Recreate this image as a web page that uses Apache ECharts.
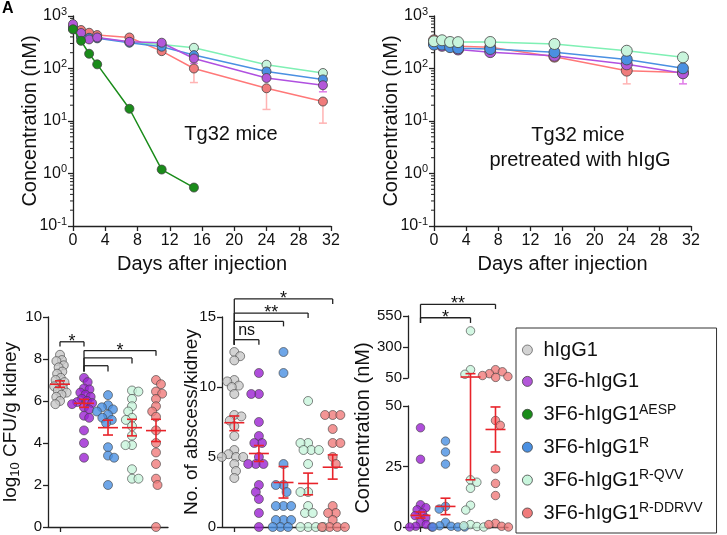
<!DOCTYPE html>
<html><head><meta charset="utf-8">
<script src="https://cdn.jsdelivr.net/npm/echarts@6/dist/echarts.min.js"></script>
<style>html,body{margin:0;padding:0;background:#fff}#c{width:727px;height:535px}</style>
</head><body><div id="c"></div><script>
const FONT = 'Liberation Sans, Arial, Helvetica, sans-serif';

// ---------- groups / legend ----------
const groupBase = ['hIgG1','3F6-hIgG1','3F6-hIgG1','3F6-hIgG1','3F6-hIgG1','3F6-hIgG1'];
const groupSup  = ['','','AESP','R','R-QVV','R-DDRVV'];
const groupNames = groupBase.map((b,i)=> groupSup[i] ? b+' '+groupSup[i] : b);
const dotColors    = ['#c8c8c8','#9b22d2','#1a8c1a','#4a90e2','#c8f5dc','#f07b7b'];
const legendColors = ['#c8c8c8','#b357d9','#1a8c1a','#4a90e2','#c8f5dc','#f07b7b'];
const lineColors   = ['#c8c8c8','#b050e0','#1a8c1a','#4a90e2','#7ff0b4','#ff7878'];

// ---------- Panel A (Tg32 mice) ----------
const daysA = [0,1,2,3,7,11,15,24,31];
const daysAGreen = [0,1,2,3,7,11,15];
const A_purple     = [700,475,358,390,323,310,155,66,48];
const A_green      = [560,337,191,120,17.1,1.19,0.54];
const A_blue       = [600,403,385,375,310,260,180,88,62];
const A_lightgreen = [556,395,375,385,315,287,248,118,82];
const A_red        = [620,541,480,433,390,214,100,42,23.5];
const A_redErr     = [[15,100,54],[24,42,16.6],[31,23.5,9.1]];
const A_purpleErr  = [[15,155,125],[31,48,36]];

// ---------- Panel B (pretreated with hIgG) ----------
const daysB = [0,1,2,3,7,15,24,31];
const B_purple     = [300,270,265,230,205,175,120,81];
const B_blue       = [285,285,255,242,235,204,149,101];
const B_lightgreen = [330,345,320,318,320,293,218,163];
const B_red        = [345,310,280,265,255,168,91,84];
const B_redErr     = [[15,168,140],[24,91,51]];
const B_purpleErr  = [[31,81,51]];

// ---------- Panel C (log10 CFU/g kidney) ----------
const catsC = ['hIgG1','3F6-hIgG1','3F6-hIgG1 R','3F6-hIgG1 R-QVV','3F6-hIgG1 R-DDRVV'];
const C_grey   = [8.2,7.95,7.9,7.7,7.6,7.4,7.3,7.1,7.0,6.9,6.8,6.7,6.6,6.5,6.4,6.3,6.2,6.0,5.85];
const C_purple = [7.1,6.9,6.6,6.55,6.4,6.3,6.2,6.1,6.0,5.95,5.9,5.85,5.7,5.6,5.3,5.2,4.6,4.0,3.3];
const C_blue   = [6.28,5.8,5.7,5.6,5.5,5.35,5.2,5.1,4.95,3.8,3.4,3.3,2.0];
const C_lgreen = [6.5,6.45,6.1,5.75,5.5,5.2,5.1,4.8,4.35,3.9,3.9,2.75,2.3,2.3];
const C_red    = [7.0,6.8,6.45,6.35,6.1,5.75,5.5,5.25,4.6,4.0,3.55,3.0,2.3,2.0,0];
const C_mean = [6.8,5.89,4.73,4.73,4.59];
const C_lo   = [6.65,5.7,4.38,4.34,4.07];
const C_hi   = [6.96,6.08,5.09,5.13,5.13];

// ---------- Panel D (No. of abscess/kidney) ----------
const D_grey   = [12.5,12.2,11.9,10.5,10.4,10.1,10,9.5,8,7.9,7.6,7.2,6.5,5.5,5.2,5.0,5.0,5.0,4.5,4.0,3.5];
const D_purple = [11,9.5,9.5,7.5,6.5,6,6,5,4.5,4.5,4.5,3,2.5,2,1,0];
const D_blue   = [12.5,11,4.5,3,3,2.5,1.5,1.5,1.5,0.5,0.5,0.5,0,0,0];
const D_lgreen = [9,6,6,5.5,5.5,5.5,4.5,2.5,2.5,1.5,1,1,0,0,0,0];
const D_red    = [8,8,8,7,6,6,5,4.5,1.5,1,1,0.5,0,0,0,0];
const D_mean = [7.45,5.25,3.18,3.11,4.27];
const D_lo   = [6.88,4.68,2.07,2.3,3.42];
const D_hi   = [7.93,5.82,4.32,3.85,5.15];

// ---------- Panel E (Concentration, broken axis) ----------
const catsE = ['3F6-hIgG1','3F6-hIgG1 R','3F6-hIgG1 R-QVV','3F6-hIgG1 R-DDRVV'];
const E_purple = [41,28,9.2,8,7.1,5.8,4.7,3.7,1.9,1.0,0.3,0,0];
const E_blue   = [35.5,31,26,8.5,7.4,1.9,0.5,0.3,0,0,0];
const E_lgreen = [430,117,80,19.5,18.5,16,9,7,1,0.5,0.2,0];
const E_red    = [117,100,85,70,62,55,44,42,24,18,13,1.5,1,0.3,0];
const E_mean = [4.8,8.5,58,40.3];
const E_lo   = [3.7,5.1,19.5,31];
const E_hi   = [6.2,11.9,85,49.6];
const E_break = 50;

// ---------- significance brackets ----------
const sigC = [
  {a:0,b:1,y:8.82,dl:8.59,dr:8.59,t:'*'},
  {a:1,b:4,y:8.40,dl:7.40,dr:8.16,t:'*'},
  {a:1,b:3,y:8.05,dl:7.40,dr:7.78,t:''},
  {a:1,b:2,y:7.68,dl:7.40,dr:7.40,t:''}
];
const sigD = [
  {a:0,b:1,y:13.38,dl:13.02,dr:13.02,t:'ns'},
  {a:0,b:2,y:14.69,dl:13.02,dr:14.33,t:''},
  {a:0,b:3,y:15.28,dl:13.02,dr:14.93,t:'**'},
  {a:0,b:4,y:16.29,dl:13.02,dr:15.93,t:'*'}
];
const sigE = [
  {a:0,b:2,y:536,dl:494,dr:494,t:'*'},
  {a:0,b:3,y:644,dl:494,dr:606,t:'**'}
];

// ---------- layout ----------
const G = {
  A:{left:73, top:16, width:258, height:210},
  B:{left:434, top:16, width:257, height:210},
  C:{left:48, top:317, width:120, height:210},
  D:{left:222, top:317, width:123, height:210},
  EU:{left:408, top:316, width:100, height:62},
  EL:{left:408, top:406, width:100, height:121}
};
const AX = {show:true, onZero:false, lineStyle:{color:'#222', width:1.3}};
const TICK = {show:true, lineStyle:{color:'#222', width:1.3}, length:5};

function swarm(vals, ppu, d){
  const idx = vals.map((v,i)=>i).sort((a,b)=>vals[b]-vals[a]);
  const placed = []; const out = new Array(vals.length).fill(0);
  let flip = 1;
  for (const i of idx){
    const y = vals[i]*ppu;
    const ivs = [];
    for (const p of placed){ const dy=Math.abs(p.y-y); if (dy<d){ const h=Math.sqrt(d*d-dy*dy); ivs.push([p.x-h,p.x+h]); } }
    const cands=[0]; ivs.forEach(iv=>cands.push(iv[0],iv[1]));
    cands.sort((a,b)=>(Math.abs(a)-Math.abs(b)) || (flip*(a-b)));
    let x=0;
    for (const c of cands){ if (ivs.every(iv=> c<=iv[0]+1e-6 || c>=iv[1]-1e-6)){ x=c; break; } }
    flip = -flip;
    placed.push({x,y}); out[i]=x;
  }
  return out;
}

function dotSeries(gi, cat, vals, xi, yi, ppu, size, overlap){
  const offs = swarm(vals, ppu, size*(overlap||0.72));
  return {type:'scatter', name:groupNames[gi], xAxisIndex:xi, yAxisIndex:yi, symbolSize:size, clip:false, z:3,
    itemStyle:{color:dotColors[gi], borderColor:'#444', borderWidth:0.8},
    data: vals.map((v,k)=>({value:[cat,v], symbolOffset:[offs[k],0]}))};
}

function lineSeries(gi, days, vals, xi, yi, size, z){
  return {type:'line', name:groupNames[gi], xAxisIndex:xi, yAxisIndex:yi, symbol:'circle', symbolSize:size, z:z||2,
    itemStyle:{color:legendColors[gi], borderColor:'#444', borderWidth:0.8},
    lineStyle:{color:lineColors[gi], width:1.5},
    data: days.map((d,k)=>[d, vals[k]])};
}

function errSeries(data, color, xi, yi){
  return {type:'custom', xAxisIndex:xi, yAxisIndex:yi, z:1, silent:true, data:data,
    renderItem:(p,api)=>{
      const a=api.coord([api.value(0),api.value(1)]), b=api.coord([api.value(0),api.value(2)]);
      const st={stroke:color, lineWidth:1.5};
      return {type:'group', children:[
        {type:'line', shape:{x1:a[0],y1:a[1],x2:b[0],y2:b[1]}, style:st},
        {type:'line', shape:{x1:b[0]-4,y1:b[1],x2:b[0]+4,y2:b[1]}, style:st}]};
    }};
}

function minorTickSeries(xi, yi){
  const mv=[]; for (let e=-1;e<=2;e++) for (let k=2;k<=9;k++) mv.push([0, k*Math.pow(10,e)]);
  return {type:'custom', xAxisIndex:xi, yAxisIndex:yi, silent:true, data:mv, z:1,
    renderItem:(p,api)=>{ const c=api.coord([api.value(0),api.value(1)]);
      return {type:'line', shape:{x1:c[0]-3,y1:c[1],x2:c[0],y2:c[1]}, style:{stroke:'#222', lineWidth:1}}; }};
}

const RED='#e8232a';
function meanSemSeries(mean, lo, hi, xi, yi){
  return {type:'custom', xAxisIndex:xi, yAxisIndex:yi, z:4, silent:true,
    data: mean.map((m,i)=>[i,m,lo[i],hi[i]]),
    renderItem:(p,api)=>{
      const c=api.value(0);
      const pm=api.coord([c,api.value(1)]), pl=api.coord([c,api.value(2)]), ph=api.coord([c,api.value(3)]);
      const st={stroke:RED, lineWidth:1.6};
      return {type:'group', children:[
        {type:'line', shape:{x1:pm[0]-10,y1:pm[1],x2:pm[0]+10,y2:pm[1]}, style:st},
        {type:'line', shape:{x1:pl[0],y1:pl[1],x2:ph[0],y2:ph[1]}, style:st},
        {type:'line', shape:{x1:pl[0]-5,y1:pl[1],x2:pl[0]+5,y2:pl[1]}, style:st},
        {type:'line', shape:{x1:ph[0]-5,y1:ph[1],x2:ph[0]+5,y2:ph[1]}, style:st}]};
    }};
}

// broken-axis mean/SEM for panel E
const gapE = G.EL.top - (G.EU.top + G.EU.height);
function meanSemLowerE(){
  return {type:'custom', xAxisIndex:5, yAxisIndex:5, z:4, silent:true,
    data: E_mean.map((m,i)=>[i,m,E_lo[i],E_hi[i]]),
    renderItem:(p,api)=>{
      const c=api.value(0), m=api.value(1), lo=api.value(2), hi=api.value(3);
      const st={stroke:RED, lineWidth:1.6};
      const pl=api.coord([c,lo]);
      if (m<=E_break){
        const pm=api.coord([c,m]), ph=api.coord([c,hi]);
        return {type:'group', children:[
          {type:'line', shape:{x1:pm[0]-10,y1:pm[1],x2:pm[0]+10,y2:pm[1]}, style:st},
          {type:'line', shape:{x1:pl[0],y1:pl[1],x2:ph[0],y2:ph[1]}, style:st},
          {type:'line', shape:{x1:pl[0]-5,y1:pl[1],x2:pl[0]+5,y2:pl[1]}, style:st},
          {type:'line', shape:{x1:ph[0]-5,y1:ph[1],x2:ph[0]+5,y2:ph[1]}, style:st}]};
      }
      const pt=api.coord([c,E_break]);
      return {type:'group', children:[
        {type:'line', shape:{x1:pl[0],y1:pl[1],x2:pt[0],y2:pt[1]-gapE}, style:st},
        {type:'line', shape:{x1:pl[0]-5,y1:pl[1],x2:pl[0]+5,y2:pl[1]}, style:st}]};
    }};
}
function meanSemUpperE(){
  return {type:'custom', xAxisIndex:4, yAxisIndex:4, z:4, silent:true,
    data: E_mean.map((m,i)=>[i,m,E_lo[i],E_hi[i]]),
    renderItem:(p,api)=>{
      const c=api.value(0), m=api.value(1), hi=api.value(3);
      if (m<=E_break) return null;
      const st={stroke:RED, lineWidth:1.6};
      const pm=api.coord([c,m]), ph=api.coord([c,hi]), pb=api.coord([c,E_break]);
      return {type:'group', children:[
        {type:'line', shape:{x1:pm[0]-10,y1:pm[1],x2:pm[0]+10,y2:pm[1]}, style:st},
        {type:'line', shape:{x1:ph[0],y1:ph[1],x2:pb[0],y2:pb[1]}, style:st},
        {type:'line', shape:{x1:ph[0]-5,y1:ph[1],x2:ph[0]+5,y2:ph[1]}, style:st}]};
    }};
}

function sigSeries(sig, xi, yi){
  return {type:'custom', xAxisIndex:xi, yAxisIndex:yi, z:5, silent:true,
    data: sig.map(s=>[s.a,s.b,s.y,s.dl,s.dr]),
    renderItem:(p,api)=>{
      const s=sig[p.dataIndex];
      const L=api.coord([s.a,s.y]), R=api.coord([s.b,s.y]);
      const Ld=api.coord([s.a,s.dl]), Rd=api.coord([s.b,s.dr]);
      const st={stroke:'#222', lineWidth:1.3};
      const ch=[
        {type:'line', shape:{x1:L[0],y1:L[1],x2:R[0],y2:R[1]}, style:st},
        {type:'line', shape:{x1:L[0],y1:L[1],x2:Ld[0],y2:Ld[1]}, style:st},
        {type:'line', shape:{x1:R[0],y1:R[1],x2:Rd[0],y2:Rd[1]}, style:st}];
      if (s.t){
        const isStar = s.t.indexOf('*')>=0;
        ch.push({type:'text', x:(L[0]+R[0])/2, y: isStar ? L[1] : L[1]-1,
          style:{text:s.t, fill:'#111', font: (isStar?'18px ':'16px ')+FONT, textAlign:'center', textVerticalAlign: isStar?'middle':'bottom'}});
      }
      return {type:'group', children:ch};
    }};
}

const logFmt = v => '{b|10}{s|' + Math.round(Math.log10(v)) + '}';
const logRich = {b:{fontSize:16, fontFamily:FONT, color:'#111'}, s:{fontSize:11, fontFamily:FONT, color:'#111', padding:[0,0,9,0]}};

function daysAxis(gi){
  return {type:'value', gridIndex:gi, min:0, max:32, interval:4, axisLine:AX, axisTick:TICK, splitLine:{show:false},
    axisLabel:{fontSize:16, fontFamily:FONT, color:'#111', margin:7},
    name:'Days after injection', nameLocation:'middle', nameGap:28, nameTextStyle:{fontSize:20, fontFamily:FONT, color:'#111'}};
}
function logAxis(gi){
  return {type:'log', logBase:10, gridIndex:gi, min:0.1, max:1000, axisLine:AX, axisTick:TICK, splitLine:{show:false}, minorTick:{show:false},
    axisLabel:{formatter:logFmt, rich:logRich, margin:6},
    name:'Concentration (nM)', nameLocation:'middle', nameGap:33, nameMoveOverlap:false,
    nameTextStyle:{fontSize:20, fontFamily:FONT, color:'#111'}};
}
function catAxis(gi, cats, show){
  return {type:'category', gridIndex:gi, data:cats, show:show!==false, axisLine:AX,
    axisTick:{show:true, alignWithLabel:true, length:5, lineStyle:{color:'#222', width:1.3}}, axisLabel:{show:false}, splitLine:{show:false}};
}
const lblStyle = {fontSize:15, fontFamily:FONT, color:'#111', margin:6, showMinLabel:true, showMaxLabel:true, hideOverlap:false};

const option = {
  animation:false,
  backgroundColor:'#fff',
  textStyle:{fontFamily:FONT},
  grid:[G.A,G.B,G.C,G.D,G.EU,G.EL].map(g=>Object.assign({containLabel:false}, g)),
  xAxis:[daysAxis(0), daysAxis(1), catAxis(2,catsC), catAxis(3,catsC), catAxis(4,catsE,false), catAxis(5,catsE)],
  yAxis:[logAxis(0), logAxis(1),
    {type:'value', gridIndex:2, min:0, max:10, interval:2, axisLine:AX, axisTick:TICK, splitLine:{show:false}, axisLabel:lblStyle,
      name:'{a|log}{u|10}{a| CFU/g kidney}', nameLocation:'middle', nameGap:26, nameMoveOverlap:false,
      nameTextStyle:{fontSize:19, color:'#111', rich:{a:{fontSize:19, fontFamily:FONT, color:'#111'}, u:{fontSize:13, fontFamily:FONT, color:'#111', padding:[9,0,0,0]}}}},
    {type:'value', gridIndex:3, min:0, max:15, interval:5, axisLine:AX, axisTick:TICK, splitLine:{show:false}, axisLabel:lblStyle,
      name:'No. of abscess/kidney', nameLocation:'middle', nameGap:21, nameMoveOverlap:false,
      nameTextStyle:{fontSize:19, fontFamily:FONT, color:'#111'}},
    {type:'value', gridIndex:4, min:50, max:550, interval:250, axisLine:AX, axisTick:TICK, splitLine:{show:false}, axisLabel:lblStyle},
    {type:'value', gridIndex:5, min:0, max:50, interval:25, axisLine:AX, axisTick:TICK, splitLine:{show:false}, axisLabel:lblStyle}
  ],
  legend:{
    orient:'vertical', left:516, top:328, icon:'circle', itemWidth:10, itemHeight:10, itemGap:11.4,
    padding:[12,14,10,6], borderColor:'#333', borderWidth:1, selectedMode:false,
    data: groupNames.map((n,i)=>({name:n, icon:'circle', itemStyle:{color:legendColors[i], borderColor:'#444', borderWidth:0.8}})),
    formatter: n => { const i=groupNames.indexOf(n); return '{b|'+groupBase[i]+'}' + (groupSup[i] ? '{s|'+groupSup[i]+'}' : ''); },
    textStyle:{fontFamily:FONT, color:'#111', padding:[0,0,0,6],
      rich:{b:{fontSize:20, fontFamily:FONT, color:'#111', lineHeight:22}, s:{fontSize:14, fontFamily:FONT, color:'#111', padding:[0,0,9,0]}}}
  },
  graphic:[
    {type:'text', left:2, top:1, style:{text:'A', font:'bold 16px '+FONT, fill:'#000'}},
    {type:'text', x:231, y:134, style:{text:'Tg32 mice', font:'20px '+FONT, fill:'#111', textAlign:'center', textVerticalAlign:'middle'}},
    {type:'text', x:578, y:135, style:{text:'Tg32 mice', font:'20px '+FONT, fill:'#111', textAlign:'center', textVerticalAlign:'middle'}},
    {type:'text', x:580, y:160, style:{text:'pretreated with hIgG', font:'20px '+FONT, fill:'#111', textAlign:'center', textVerticalAlign:'middle'}},
    {type:'text', x:363, y:428, rotation:Math.PI/2, style:{text:'Concentration (nM)', font:'20px '+FONT, fill:'#111', textAlign:'center', textVerticalAlign:'middle'}}
  ],
  series:[
    minorTickSeries(0,0), minorTickSeries(1,1),
    errSeries(A_redErr, '#ffb3b3', 0, 0), errSeries(A_purpleErr, '#e07ce8', 0, 0),
    lineSeries(5, daysA, A_red, 0, 0, 9),
    lineSeries(4, daysA, A_lightgreen, 0, 0, 9),
    lineSeries(3, daysA, A_blue, 0, 0, 9),
    lineSeries(1, daysA, A_purple, 0, 0, 9),
    lineSeries(2, daysAGreen, A_green, 0, 0, 9, 3),
    errSeries(B_redErr, '#ffb3b3', 1, 1), errSeries(B_purpleErr, '#e07ce8', 1, 1),
    lineSeries(5, daysB, B_red, 1, 1, 11),
    lineSeries(1, daysB, B_purple, 1, 1, 11),
    lineSeries(3, daysB, B_blue, 1, 1, 11),
    lineSeries(4, daysB, B_lightgreen, 1, 1, 11),
    // panel C
    dotSeries(0, 0, C_grey, 2, 2, G.C.height/10, 9, 0.62),
    dotSeries(1, 1, C_purple, 2, 2, G.C.height/10, 9, 0.62),
    dotSeries(3, 2, C_blue, 2, 2, G.C.height/10, 9, 0.72),
    dotSeries(4, 3, C_lgreen, 2, 2, G.C.height/10, 9, 0.72),
    dotSeries(5, 4, C_red, 2, 2, G.C.height/10, 9, 0.72),
    meanSemSeries(C_mean, C_lo, C_hi, 2, 2),
    sigSeries(sigC, 2, 2),
    // panel D
    dotSeries(0, 0, D_grey, 3, 3, G.D.height/15, 9, 0.8),
    dotSeries(1, 1, D_purple, 3, 3, G.D.height/15, 9, 0.85),
    dotSeries(3, 2, D_blue, 3, 3, G.D.height/15, 9, 0.85),
    dotSeries(4, 3, D_lgreen, 3, 3, G.D.height/15, 9, 0.85),
    dotSeries(5, 4, D_red, 3, 3, G.D.height/15, 9, 0.85),
    meanSemSeries(D_mean, D_lo, D_hi, 3, 3),
    sigSeries(sigD, 3, 3),
    // panel E lower
    dotSeries(1, 0, E_purple.filter(v=>v<=E_break), 5, 5, G.EL.height/50, 8.5, 0.72),
    dotSeries(3, 1, E_blue.filter(v=>v<=E_break), 5, 5, G.EL.height/50, 8.5, 0.8),
    dotSeries(4, 2, E_lgreen.filter(v=>v<=E_break), 5, 5, G.EL.height/50, 8.5, 0.8),
    dotSeries(5, 3, E_red.filter(v=>v<=E_break), 5, 5, G.EL.height/50, 8.5, 0.8),
    // panel E upper
    dotSeries(4, 2, E_lgreen.filter(v=>v>E_break), 4, 4, G.EU.height/500, 8.5, 0.85),
    dotSeries(5, 3, E_red.filter(v=>v>E_break), 4, 4, G.EU.height/500, 8.5, 0.85),
    meanSemLowerE(), meanSemUpperE(),
    sigSeries(sigE, 4, 4)
  ]
};
const chart = echarts.init(document.getElementById('c'));
chart.setOption(option);
</script></body></html>
